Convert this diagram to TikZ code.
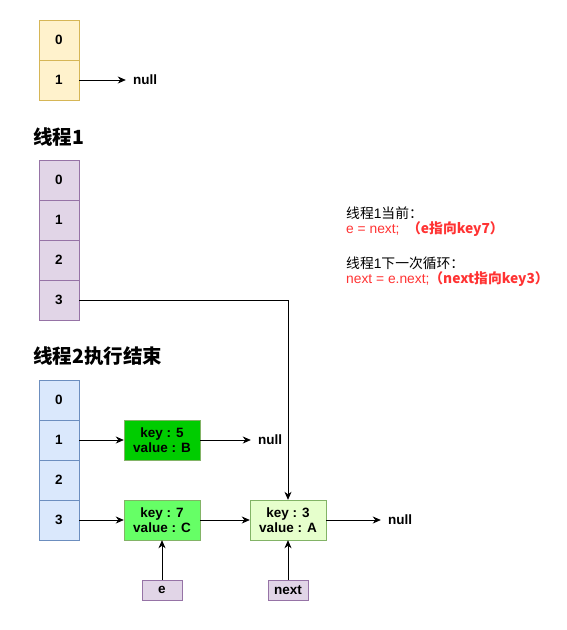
\documentclass[tikz,border=0pt]{standalone}
\usepackage{fontspec}
\setmainfont{Liberation Sans}
\newfontfamily\cjk{Noto Sans CJK SC}
\usetikzlibrary{arrows.meta}
\definecolor{yelfill}{HTML}{FFF2CC}
\definecolor{yelline}{HTML}{D6B656}
\definecolor{purfill}{HTML}{E1D5E7}
\definecolor{purline}{HTML}{9673A6}
\definecolor{blufill}{HTML}{DAE8FC}
\definecolor{bluline}{HTML}{6C8EBF}
\definecolor{grnline}{HTML}{82B366}
\definecolor{grndark}{HTML}{00CC00}
\definecolor{grnmid}{HTML}{66FF66}
\definecolor{grnpale}{HTML}{E6FFCC}
\definecolor{redtext}{HTML}{FF3333}
\begin{document}
\begin{tikzpicture}[x=1pt,y=-1pt,
  every node/.style={font=\fontsize{13.5}{15}\selectfont\bfseries, inner sep=0pt},
  cell/.style={draw, minimum width=40pt, minimum height=40pt},
  ycell/.style={cell, fill=yelfill, draw=yelline},
  pcell/.style={cell, fill=purfill, draw=purline},
  bcell/.style={cell, fill=blufill, draw=bluline},
  entry/.style={draw=grnline, minimum width=76pt, minimum height=40pt, align=center},
  ptr/.style={draw=purline, fill=purfill, minimum width=40pt, minimum height=20pt},
  nullnode/.style={inner xsep=7pt},
  title/.style={font=\fontsize{19.5}{22}\selectfont\bfseries\cjk, anchor=west},
  note/.style={font=\fontsize{13.8}{15}\selectfont, anchor=west},
  arr/.style={-{Stealth[length=8pt,width=7pt,inset=2.5pt]}, line width=0.8pt}
]
\useasboundingbox (0,0) rectangle (566,630);

% initial table
\node[ycell] (y0) at (59,40) {0};
\node[ycell] (y1) at (59,80) {1};
\node[nullnode] (ynull) at (145,80) {null};
\draw[arr] (y1.east) -- (ynull.west);

% thread 1 view
\node[title] (t1) at (33,137) {线程1};
\node[pcell] (p0) at (59,180) {0};
\node[pcell] (p1) at (59,220) {1};
\node[pcell] (p2) at (59,260) {2};
\node[pcell] (p3) at (59,300) {3};

% notes
\node[note] (n1) at (346,213) {{\cjk 线程}1{\cjk 当前：}};
\node[note, text=redtext] (n2) at (346,229) {e = next;\ \ {\cjk\bfseries （e指向key7）}};
\node[note] (n3) at (346,263) {{\cjk 线程}1{\cjk 下一次循环：}};
\node[note, text=redtext] (n4) at (346,279) {next = e.next;{\cjk\bfseries （next指向key3）}};

% thread 2 result
\node[title] (t2) at (33,356) {线程2执行结束};
\node[bcell] (q0) at (59,400) {0};
\node[bcell] (q1) at (59,440) {1};
\node[bcell] (q2) at (59,480) {2};
\node[bcell] (q3) at (59,520) {3};

\node[entry, fill=grndark] (k5) at (162,440) {key : 5\\value : B};
\node[entry, fill=grnmid] (k7) at (162,520) {key : 7\\value : C};
\node[entry, fill=grnpale] (k3) at (288,520) {key : 3\\value : A};
\node[nullnode] (null5) at (270,440) {null};
\node[nullnode] (null3) at (400,520) {null};

\node[ptr] (e) at (162,590) {e};
\node[ptr] (nx) at (288,590) {next};

\draw[arr] (q1.east) -- (k5.west);
\draw[arr] (k5.east) -- (null5.west);
\draw[arr] (q3.east) -- (k7.west);
\draw[arr] (k7.east) -- (k3.west);
\draw[arr] (k3.east) -- (null3.west);
\draw[arr] (p3.east) -| (k3.north);
\draw[arr] (e.north) -- (k7.south);
\draw[arr] (nx.north) -- (k3.south);
\end{tikzpicture}
\end{document}
